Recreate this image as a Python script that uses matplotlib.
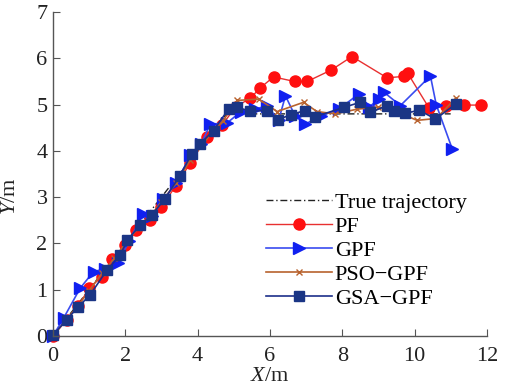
import matplotlib
matplotlib.use("Agg")
import matplotlib.pyplot as plt

plt.rcParams['font.family'] = ['Liberation Serif', 'DejaVu Serif']
plt.rcParams['mathtext.fontset'] = 'custom'
plt.rcParams['mathtext.it'] = 'Liberation Serif:italic'
plt.rcParams['mathtext.rm'] = 'Liberation Serif'

true_x = [0, 4.8, 11.0]
true_y = [0, 4.8, 4.8]

pf_x = [0, 0.38, 0.7, 1.0, 1.35, 1.63, 2.0, 2.3, 2.69, 3.0, 3.4, 3.8, 4.26, 4.67, 5.05,
        5.46, 5.73, 6.1, 6.68, 7.03, 7.7, 8.27, 9.24, 9.7, 9.81, 10.4, 10.86, 11.37, 11.83]
pf_y = [0, 0.35, 0.65, 1.03, 1.28, 1.66, 1.96, 2.28, 2.51, 2.79, 3.25, 3.74, 4.3, 4.55, 4.95,
        5.14, 5.36, 5.6, 5.5, 5.5, 5.75, 6.04, 5.58, 5.61, 5.68, 4.93, 4.96, 4.99, 4.99]

gpf_x = [0, 0.29, 0.75, 1.12, 1.45, 1.81, 2.1, 2.5, 2.75, 3.05, 3.4, 3.8, 4.1, 4.35, 4.81,
         5.2, 5.6, 5.92, 6.24, 6.43, 6.7, 6.98, 7.4, 7.9, 8.46, 8.75, 9.01, 9.15, 9.61,
         10.44, 10.6, 11.04]
gpf_y = [0, 0.38, 1.03, 1.39, 1.45, 1.57, 2.05, 2.64, 2.6, 2.95, 3.3, 3.9, 4.15, 4.58, 4.6,
         4.85, 4.9, 4.98, 4.66, 5.19, 4.75, 4.58, 4.75, 4.9, 5.23, 4.95, 5.12, 5.27, 4.98,
         5.62, 5.0, 4.05]

pso_x = [0, 0.35, 0.7, 1.0, 1.35, 1.7, 2.0, 2.35, 2.7, 3.0, 3.4, 3.8, 4.1, 4.4, 4.7, 5.09,
         5.69, 6.2, 6.93, 7.3, 7.81, 8.4, 9.0, 9.5, 10.07, 10.6, 11.14]
pso_y = [0, 0.33, 0.66, 0.98, 1.35, 1.68, 2.0, 2.33, 2.6, 2.9, 3.3, 3.8, 4.1, 4.4, 4.65, 5.09,
         5.12, 4.85, 5.05, 4.85, 4.8, 4.9, 4.95, 4.85, 4.66, 4.7, 5.14]

gsa_x = [0, 0.38, 0.7, 1.02, 1.49, 1.86, 2.06, 2.41, 2.73, 3.1, 3.5, 3.84, 4.07, 4.44, 4.86,
         5.09, 5.46, 5.92, 6.21, 6.57, 6.96, 7.26, 8.04, 8.5, 8.78, 9.24, 9.43, 9.75, 10.12,
         10.58, 11.14]
gsa_y = [0.02, 0.35, 0.63, 0.88, 1.42, 1.75, 2.08, 2.39, 2.61, 2.97, 3.45, 3.94, 4.15, 4.44,
         4.91, 4.94, 4.86, 4.87, 4.67, 4.78, 4.87, 4.74, 4.94, 5.05, 4.83, 4.98, 4.87, 4.81,
         4.88, 4.69, 5.01]

labels = ['True trajectory', 'PF', 'GPF', 'PSO\u2212GPF', 'GSA\u2212GPF']
xticks = [0, 2, 4, 6, 8, 10, 12]
yticks = [0, 1, 2, 3, 4, 5, 6, 7]

fig = plt.figure(figsize=(5.05, 3.91), dpi=100)
ax = fig.add_axes([0.105, 0.141, 0.859, 0.828])

ax.plot(true_x, true_y, color='#222222', lw=1.0, ls=(0, (5, 2, 1, 2)), label=labels[0], clip_on=False)
ax.plot(pf_x, pf_y, color='#e83030', lw=1.0, marker='o', ms=8, mfc='#ff1010', mec='#ff1010',
        label=labels[1], clip_on=False)
ax.plot(gpf_x, gpf_y, color='#3a4cf0', lw=1.2, marker='>', ms=8, mfc='#1020f0', mec='#1020f0',
        label=labels[2], clip_on=False)
ax.plot(pso_x, pso_y, color='#b8622e', lw=1.2, marker='x', ms=5, mew=1.0,
        label=labels[3], clip_on=False)
ax.plot(gsa_x, gsa_y, color='#1c2f8a', lw=1.2, marker='s', ms=7, mfc='#1a3585', mec='#1a3585',
        label=labels[4], clip_on=False)

ax.set_xlim(0, 12)
ax.set_ylim(0, 7)
ax.set_xticks(xticks)
ax.set_yticks(yticks)
for s in ['top', 'right']:
    ax.spines[s].set_visible(False)
for s in ['left', 'bottom']:
    ax.spines[s].set_color('#555555')
    ax.spines[s].set_linewidth(1.0)
ax.tick_params(direction='in', length=5, color='#555555', labelsize=16, labelcolor='#222222', pad=4)
ax.tick_params(axis='x', pad=8)

ax.set_xlabel('$X$/m', fontsize=16, color='#222222', labelpad=1)
ax.set_ylabel('$Y$/m', fontsize=16, color='#222222', labelpad=2)
ax.yaxis.set_label_coords(-0.075, 0.43)

leg = ax.legend(loc='lower left', bbox_to_anchor=(0.47, 0.055), frameon=False, fontsize=16,
                handlelength=3.0, handletextpad=0.1, labelspacing=0.16, borderaxespad=0)

fig.savefig('out.png', dpi=100)
